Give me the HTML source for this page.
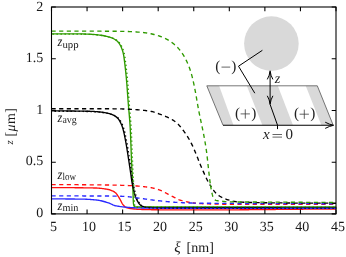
<!DOCTYPE html>
<html><head><meta charset="utf-8"><style>
html,body{margin:0;padding:0;background:#fff;}
svg{display:block;font-family:"Liberation Serif",serif;text-rendering:geometricPrecision;will-change:transform;}
</style></head><body>
<svg width="346" height="257" viewBox="0 0 346 257">
<rect width="346" height="257" fill="#fff"/>
<!-- inset -->
<g>
<path d="M206.8,85.8 L317.3,85.8 L333.2,125.2 L223,125.2 Z" fill="#fff"/>
<path d="M206.8,85.8 L219.1,85.8 L233.5,125.2 L223,125.2 Z" fill="#d9d9d9"/>
<path d="M246.8,85.8 L277.8,85.8 L293,125.2 L262.4,125.2 Z" fill="#d9d9d9"/>
<path d="M305.7,85.8 L317.3,85.8 L333.2,125.2 L321.4,125.2 Z" fill="#d9d9d9"/>
<path d="M206.8,85.8 L317.3,85.8 L333.2,125.2 M206.8,85.8 L223,125.2" fill="none" stroke="#555" stroke-width="0.8"/>
<circle cx="271.4" cy="43.6" r="27.3" fill="#d9d9d9"/>
<g fill="none" stroke="#000" stroke-width="1">
<path d="M223,125.3 H332.5" stroke-width="1.1"/>
<path d="M325.2,122.2 Q329.5,124.5 333.6,125.3 Q329.5,126.1 325.2,128.4"/>
<path d="M262.4,50.3 L238.5,66.2 L254.8,93.2"/>
<path d="M270.1,72 V103.5"/>
<path d="M267.3,79.4 Q269.6,75.5 270.1,70.8 Q270.6,75.5 272.9,79.4"/>
<path d="M267.3,95.8 Q269.6,99.7 270.1,104.4 Q270.6,99.7 272.9,95.8"/>
<path d="M270.1,104.4 L277.5,125.2 V129.1"/>
</g>
<g fill="none" stroke="#333" stroke-width="0.75">
<path d="M221.5,67.1 H230.2"/>
<path d="M240.6,113.9 H249.9 M245.3,109.3 V118.6"/>
<path d="M299.6,114.2 H308.9 M304.3,109.6 V118.9"/>
<path d="M272.5,134.5 H282 M272.5,137.1 H282"/>
</g>
<g font-size="15.3px" fill="#222">
<text x="215.2" y="70.5">(</text><text x="231.3" y="70.5">)</text>
<text x="234.9" y="117.5">(</text><text x="251.2" y="117.5">)</text>
<text x="293.9" y="117.8">(</text><text x="310.2" y="117.8">)</text>
</g>
<g font-size="15px" fill="#222">
<text x="274.7" y="82.9" font-size="14.2px" font-style="italic">z</text>
<text x="262.9" y="139.4" font-style="italic">x</text>
<text x="285.4" y="139.4">0</text>
</g>
</g>
<!-- curves -->
<g stroke-linejoin="round">
<path d="M51.50,33.80 L52.96,33.80 L54.42,33.80 L55.88,33.80 L57.34,33.80 L58.80,33.81 L60.26,33.81 L61.72,33.81 L63.17,33.82 L64.63,33.82 L66.09,33.83 L67.55,33.83 L69.01,33.84 L70.47,33.84 L71.93,33.85 L73.39,33.86 L74.85,33.87 L76.30,33.88 L77.76,33.88 L79.22,33.89 L80.68,33.91 L82.14,33.93 L83.60,33.96 L85.06,34.00 L86.52,34.06 L87.97,34.11 L89.43,34.17 L90.89,34.24 L92.35,34.33 L93.80,34.44 L95.26,34.57 L96.72,34.71 L98.17,34.87 L99.61,35.05 L101.05,35.25 L102.50,35.48 L103.95,35.75 L105.40,36.06 L106.84,36.40 L108.26,36.78 L109.66,37.20 L111.02,37.65 L112.35,38.14 L113.69,38.75 L115.00,39.49 L116.24,40.33 L117.34,41.24 L118.29,42.26 L119.17,43.43 L119.97,44.71 L120.68,46.02 L121.28,47.33 L121.84,48.67 L122.34,50.06 L122.79,51.46 L123.16,52.88 L123.46,54.29 L123.72,55.72 L123.95,57.16 L124.15,58.61 L124.34,60.07 L124.52,61.52 L124.70,62.97 L124.88,64.42 L125.05,65.87 L125.22,67.32 L125.38,68.77 L125.54,70.22 L125.70,71.67 L125.85,73.12 L125.99,74.57 L126.13,76.02 L126.27,77.48 L126.40,78.93 L126.53,80.38 L126.66,81.84 L126.78,83.29 L126.89,84.74 L127.00,86.20 L127.11,87.65 L127.22,89.11 L127.32,90.56 L127.42,92.02 L127.52,93.48 L127.63,94.93 L127.73,96.39 L127.84,97.84 L127.95,99.30 L128.06,100.75 L128.17,102.21 L128.29,103.66 L128.41,105.11 L128.54,106.57 L128.66,108.02 L128.79,109.48 L128.92,110.93 L129.04,112.39 L129.17,113.84 L129.29,115.29 L129.41,116.75 L129.53,118.20 L129.64,119.66 L129.75,121.11 L129.86,122.57 L129.96,124.02 L130.05,125.48 L130.14,126.93 L130.22,128.39 L130.30,129.84 L130.37,131.30 L130.44,132.76 L130.50,134.22 L130.57,135.67 L130.63,137.13 L130.69,138.59 L130.74,140.05 L130.80,141.50 L130.85,142.96 L130.91,144.42 L130.96,145.88 L131.01,147.34 L131.07,148.80 L131.12,150.25 L131.17,151.71 L131.23,153.17 L131.28,154.63 L131.34,156.09 L131.40,157.55 L131.46,159.00 L131.52,160.46 L131.58,161.92 L131.65,163.38 L131.72,164.83 L131.78,166.29 L131.85,167.75 L131.92,169.21 L131.99,170.66 L132.06,172.12 L132.13,173.58 L132.20,175.04 L132.27,176.49 L132.34,177.95 L132.41,179.41 L132.48,180.86 L132.55,182.32 L132.62,183.78 L132.69,185.24 L132.76,186.69 L132.83,188.15 L132.89,189.61 L132.96,191.07 L133.02,192.52 L133.07,193.99 L133.12,195.46 L133.15,196.93 L133.20,198.40 L133.25,199.86 L133.31,201.31 L133.40,202.76 L133.52,204.19 L133.87,205.85 L134.53,206.69 L136.02,206.95 L137.57,207.00 L139.02,207.00 L140.47,206.99 L141.93,206.99 L143.39,206.98 L144.84,206.98 L146.30,206.97 L147.77,206.96 L149.23,206.95 L150.69,206.94 L152.15,206.93 L153.61,206.92 L155.08,206.92 L156.54,206.91 L158.00,206.90 L159.46,206.90 L160.92,206.90 L162.38,206.90 L163.84,206.90 L165.29,206.89 L166.75,206.89 L168.21,206.89 L169.67,206.89 L171.13,206.89 L172.59,206.88 L174.05,206.88 L175.51,206.88 L176.97,206.88 L178.43,206.88 L179.88,206.88 L181.34,206.88 L182.80,206.87 L184.26,206.87 L185.72,206.87 L187.18,206.87 L188.64,206.87 L190.10,206.87 L191.56,206.86 L193.02,206.86 L194.47,206.86 L195.93,206.86 L197.39,206.86 L198.85,206.86 L200.31,206.86 L201.77,206.86 L203.23,206.85 L204.69,206.85 L206.15,206.85 L207.61,206.85 L209.06,206.85 L210.52,206.85 L211.98,206.85 L213.44,206.85 L214.90,206.84 L216.36,206.84 L217.82,206.84 L219.28,206.84 L220.74,206.84 L222.20,206.84 L223.65,206.84 L225.11,206.84 L226.57,206.84 L228.03,206.83 L229.49,206.83 L230.95,206.83 L232.41,206.83 L233.87,206.83 L235.33,206.83 L236.79,206.83 L238.25,206.83 L239.70,206.83 L241.16,206.83 L242.62,206.83 L244.08,206.82 L245.54,206.82 L247.00,206.82 L248.46,206.82 L249.92,206.82 L251.38,206.82 L252.84,206.82 L254.29,206.82 L255.75,206.82 L257.21,206.82 L258.67,206.82 L260.13,206.82 L261.59,206.82 L263.05,206.82 L264.51,206.81 L265.97,206.81 L267.43,206.81 L268.88,206.81 L270.34,206.81 L271.80,206.81 L273.26,206.81 L274.72,206.81 L276.18,206.81 L277.64,206.81 L279.10,206.81 L280.56,206.81 L282.02,206.81 L283.47,206.81 L284.93,206.81 L286.39,206.81 L287.85,206.81 L289.31,206.81 L290.77,206.81 L292.23,206.81 L293.69,206.80 L295.15,206.80 L296.61,206.80 L298.07,206.80 L299.52,206.80 L300.98,206.80 L302.44,206.80 L303.90,206.80 L305.36,206.80 L306.82,206.80 L308.28,206.80 L309.74,206.80 L311.20,206.80 L312.66,206.80 L314.11,206.80 L315.57,206.80 L317.03,206.80 L318.49,206.80 L319.95,206.80 L321.41,206.80 L322.87,206.80 L324.33,206.80 L325.79,206.80 L327.25,206.80 L328.70,206.80 L330.16,206.80 L331.62,206.80 L333.08,206.80 L334.54,206.80 L336.00,206.80" fill="none" stroke="#2f9a00" stroke-width="1.35"/>
<path d="M51.50,110.90 L52.69,110.90 L53.87,110.90 L55.06,110.90 L56.25,110.91 L57.44,110.91 L58.62,110.91 L59.81,110.92 L61.00,110.92 L62.18,110.93 L63.37,110.94 L64.55,110.94 L65.74,110.95 L66.93,110.96 L68.11,110.97 L69.30,110.98 L70.48,111.00 L71.67,111.01 L72.85,111.02 L74.04,111.03 L75.22,111.05 L76.41,111.07 L77.59,111.08 L78.78,111.10 L79.96,111.12 L81.15,111.14 L82.33,111.15 L83.51,111.17 L84.70,111.20 L85.88,111.22 L87.07,111.24 L88.25,111.26 L89.43,111.29 L90.62,111.32 L91.80,111.36 L92.99,111.42 L94.17,111.49 L95.36,111.58 L96.54,111.68 L97.72,111.78 L98.90,111.89 L100.08,112.01 L101.26,112.14 L102.44,112.29 L103.62,112.46 L104.79,112.65 L105.96,112.87 L107.12,113.10 L108.26,113.36 L109.41,113.67 L110.55,114.04 L111.68,114.45 L112.78,114.91 L113.83,115.42 L114.86,115.98 L115.87,116.64 L116.83,117.38 L117.70,118.18 L118.45,119.04 L119.13,120.01 L119.75,121.06 L120.31,122.12 L120.83,123.18 L121.32,124.26 L121.78,125.36 L122.20,126.48 L122.58,127.60 L122.91,128.73 L123.23,129.86 L123.52,131.01 L123.80,132.16 L124.06,133.32 L124.31,134.48 L124.55,135.65 L124.78,136.81 L125.01,137.98 L125.24,139.15 L125.46,140.31 L125.68,141.48 L125.89,142.64 L126.10,143.81 L126.31,144.97 L126.51,146.14 L126.70,147.31 L126.90,148.48 L127.08,149.65 L127.27,150.82 L127.46,151.99 L127.64,153.17 L127.82,154.34 L128.00,155.51 L128.18,156.68 L128.37,157.85 L128.55,159.03 L128.73,160.20 L128.91,161.37 L129.09,162.54 L129.27,163.71 L129.44,164.89 L129.62,166.06 L129.79,167.23 L129.97,168.40 L130.14,169.58 L130.31,170.75 L130.49,171.92 L130.66,173.09 L130.83,174.27 L130.99,175.44 L131.16,176.62 L131.32,177.79 L131.49,178.97 L131.66,180.14 L131.84,181.31 L132.03,182.48 L132.24,183.65 L132.46,184.81 L132.70,185.97 L132.96,187.13 L133.24,188.28 L133.52,189.43 L133.80,190.59 L134.08,191.74 L134.35,192.90 L134.63,194.05 L134.94,195.19 L135.31,196.31 L135.74,197.42 L136.22,198.51 L136.74,199.58 L137.27,200.63 L137.83,201.70 L138.43,202.74 L139.11,203.69 L139.90,204.56 L140.81,205.39 L141.80,206.05 L142.84,206.51 L143.98,206.91 L145.16,207.20 L146.32,207.32 L147.49,207.39 L148.66,207.45 L149.84,207.50 L151.03,207.54 L152.21,207.58 L153.40,207.62 L154.60,207.64 L155.79,207.66 L156.99,207.68 L158.18,207.69 L159.37,207.70 L160.55,207.70 L161.74,207.70 L162.92,207.70 L164.11,207.71 L165.29,207.71 L166.48,207.71 L167.66,207.71 L168.85,207.71 L170.03,207.71 L171.22,207.72 L172.40,207.72 L173.59,207.72 L174.77,207.72 L175.96,207.72 L177.14,207.72 L178.33,207.73 L179.51,207.73 L180.70,207.73 L181.88,207.73 L183.07,207.73 L184.26,207.73 L185.44,207.73 L186.63,207.74 L187.81,207.74 L189.00,207.74 L190.18,207.74 L191.37,207.74 L192.55,207.74 L193.74,207.74 L194.92,207.74 L196.11,207.75 L197.29,207.75 L198.48,207.75 L199.66,207.75 L200.85,207.75 L202.03,207.75 L203.22,207.75 L204.40,207.75 L205.59,207.76 L206.77,207.76 L207.96,207.76 L209.15,207.76 L210.33,207.76 L211.52,207.76 L212.70,207.76 L213.89,207.76 L215.07,207.76 L216.26,207.76 L217.44,207.76 L218.63,207.77 L219.81,207.77 L221.00,207.77 L222.18,207.77 L223.37,207.77 L224.55,207.77 L225.74,207.77 L226.92,207.77 L228.11,207.77 L229.30,207.77 L230.48,207.77 L231.67,207.77 L232.85,207.78 L234.04,207.78 L235.22,207.78 L236.41,207.78 L237.59,207.78 L238.78,207.78 L239.96,207.78 L241.15,207.78 L242.33,207.78 L243.52,207.78 L244.71,207.78 L245.89,207.78 L247.08,207.78 L248.26,207.78 L249.45,207.78 L250.63,207.78 L251.82,207.79 L253.00,207.79 L254.19,207.79 L255.37,207.79 L256.56,207.79 L257.75,207.79 L258.93,207.79 L260.12,207.79 L261.30,207.79 L262.49,207.79 L263.67,207.79 L264.86,207.79 L266.04,207.79 L267.23,207.79 L268.41,207.79 L269.60,207.79 L270.79,207.79 L271.97,207.79 L273.16,207.79 L274.34,207.79 L275.53,207.79 L276.71,207.79 L277.90,207.79 L279.08,207.79 L280.27,207.79 L281.46,207.80 L282.64,207.80 L283.83,207.80 L285.01,207.80 L286.20,207.80 L287.38,207.80 L288.57,207.80 L289.76,207.80 L290.94,207.80 L292.13,207.80 L293.31,207.80 L294.50,207.80 L295.68,207.80 L296.87,207.80 L298.05,207.80 L299.24,207.80 L300.43,207.80 L301.61,207.80 L302.80,207.80 L303.98,207.80 L305.17,207.80 L306.35,207.80 L307.54,207.80 L308.73,207.80 L309.91,207.80 L311.10,207.80 L312.28,207.80 L313.47,207.80 L314.65,207.80 L315.84,207.80 L317.03,207.80 L318.21,207.80 L319.40,207.80 L320.58,207.80 L321.77,207.80 L322.96,207.80 L324.14,207.80 L325.33,207.80 L326.51,207.80 L327.70,207.80 L328.88,207.80 L330.07,207.80 L331.26,207.80 L332.44,207.80 L333.63,207.80 L334.81,207.80 L336.00,207.80" fill="none" stroke="#000" stroke-width="1.35"/>
<path d="M51.50,187.60 L52.48,187.60 L53.47,187.60 L54.45,187.60 L55.44,187.60 L56.42,187.60 L57.41,187.61 L58.39,187.61 L59.37,187.61 L60.36,187.61 L61.34,187.62 L62.32,187.62 L63.30,187.62 L64.29,187.63 L65.27,187.63 L66.25,187.64 L67.23,187.65 L68.21,187.65 L69.19,187.66 L70.17,187.66 L71.15,187.67 L72.13,187.68 L73.11,187.69 L74.09,187.70 L75.07,187.71 L76.05,187.71 L77.03,187.72 L78.01,187.74 L78.99,187.75 L79.97,187.76 L80.95,187.77 L81.93,187.78 L82.91,187.79 L83.89,187.81 L84.87,187.82 L85.84,187.84 L86.82,187.85 L87.80,187.87 L88.78,187.88 L89.75,187.90 L90.73,187.91 L91.71,187.93 L92.69,187.95 L93.66,187.97 L94.64,187.99 L95.62,188.01 L96.60,188.04 L97.58,188.09 L98.57,188.15 L99.56,188.23 L100.55,188.32 L101.54,188.43 L102.52,188.55 L103.50,188.68 L104.47,188.82 L105.43,188.97 L106.39,189.13 L107.33,189.29 L108.27,189.48 L109.22,189.71 L110.18,190.01 L111.14,190.36 L112.08,190.76 L113.00,191.20 L113.87,191.68 L114.68,192.19 L115.43,192.72 L116.10,193.36 L116.72,194.12 L117.31,194.96 L117.86,195.80 L118.41,196.61 L118.92,197.44 L119.42,198.29 L119.91,199.14 L120.39,200.00 L120.85,200.87 L121.29,201.76 L121.72,202.64 L122.19,203.50 L122.72,204.31 L123.33,205.08 L124.00,205.80 L124.71,206.48 L125.49,207.11 L126.33,207.54 L127.24,207.87 L128.20,208.14 L129.18,208.36 L130.15,208.52 L131.11,208.66 L132.08,208.78 L133.05,208.89 L134.03,209.00 L135.01,209.09 L135.99,209.17 L136.97,209.24 L137.95,209.31 L138.94,209.36 L139.92,209.40 L140.89,209.43 L141.87,209.46 L142.85,209.49 L143.83,209.52 L144.81,209.55 L145.79,209.58 L146.77,209.61 L147.75,209.63 L148.73,209.65 L149.71,209.67 L150.69,209.69 L151.67,209.71 L152.65,209.73 L153.64,209.74 L154.62,209.76 L155.60,209.77 L156.58,209.78 L157.56,209.79 L158.54,209.79 L159.52,209.80 L160.50,209.80 L161.48,209.81 L162.46,209.81 L163.44,209.81 L164.42,209.82 L165.40,209.82 L166.38,209.82 L167.36,209.82 L168.34,209.83 L169.32,209.83 L170.30,209.83 L171.29,209.84 L172.27,209.84 L173.25,209.84 L174.23,209.84 L175.21,209.85 L176.19,209.85 L177.17,209.85 L178.15,209.85 L179.13,209.86 L180.11,209.86 L181.09,209.86 L182.07,209.86 L183.05,209.86 L184.03,209.87 L185.01,209.87 L185.99,209.87 L186.97,209.87 L187.95,209.87 L188.93,209.88 L189.91,209.88 L190.89,209.88 L191.87,209.88 L192.86,209.88 L193.84,209.88 L194.82,209.88 L195.80,209.89 L196.78,209.89 L197.76,209.89 L198.74,209.89 L199.72,209.89 L200.70,209.89 L201.68,209.89 L202.66,209.89 L203.64,209.89 L204.62,209.89 L205.60,209.89 L206.58,209.90 L207.56,209.90 L208.54,209.90 L209.52,209.90 L210.50,209.90 L211.48,209.90 L212.47,209.90 L213.45,209.90 L214.43,209.90 L215.41,209.90 L216.39,209.90 L217.37,209.90 L218.35,209.90 L219.33,209.90 L220.31,209.90 L221.29,209.90 L222.27,209.90 L223.25,209.90 L224.23,209.89 L225.21,209.89 L226.19,209.89 L227.17,209.88 L228.15,209.88 L229.13,209.87 L230.11,209.87 L231.09,209.86 L232.07,209.86 L233.05,209.85 L234.04,209.84 L235.02,209.83 L236.00,209.83 L236.98,209.82 L237.96,209.81 L238.94,209.80 L239.92,209.79 L240.90,209.78 L241.88,209.77 L242.86,209.76 L243.84,209.75 L244.82,209.74 L245.80,209.73 L246.78,209.72 L247.76,209.72 L248.74,209.71 L249.72,209.70 L250.70,209.69 L251.68,209.68 L252.66,209.67 L253.64,209.66 L254.62,209.65 L255.60,209.64 L256.59,209.63 L257.57,209.62 L258.55,209.61 L259.53,209.60 L260.51,209.60 L261.49,209.59 L262.47,209.58 L263.45,209.57 L264.43,209.56 L265.41,209.55 L266.39,209.55 L267.37,209.54 L268.35,209.53 L269.33,209.52 L270.31,209.51 L271.29,209.50 L272.27,209.49 L273.25,209.48 L274.23,209.47 L275.21,209.46 L276.19,209.45 L277.17,209.44 L278.15,209.43 L279.13,209.42 L280.12,209.41 L281.10,209.41 L282.08,209.40 L283.06,209.39 L284.04,209.38 L285.02,209.37 L286.00,209.36 L286.98,209.35 L287.96,209.34 L288.94,209.33 L289.92,209.32 L290.90,209.31 L291.88,209.30 L292.86,209.29 L293.84,209.28 L294.82,209.27 L295.80,209.26 L296.78,209.26 L297.76,209.25 L298.74,209.24 L299.72,209.23 L300.70,209.22 L301.68,209.21 L302.66,209.21 L303.65,209.20 L304.63,209.19 L305.61,209.18 L306.59,209.17 L307.57,209.17 L308.55,209.16 L309.53,209.15 L310.51,209.15 L311.49,209.14 L312.47,209.13 L313.45,209.13 L314.43,209.12 L315.41,209.11 L316.39,209.11 L317.37,209.10 L318.35,209.10 L319.33,209.09 L320.31,209.08 L321.29,209.08 L322.27,209.07 L323.25,209.07 L324.23,209.06 L325.22,209.06 L326.20,209.05 L327.18,209.04 L328.16,209.04 L329.14,209.03 L330.12,209.03 L331.10,209.02 L332.08,209.02 L333.06,209.01 L334.04,209.01 L335.02,209.00 L336.00,209.00" fill="none" stroke="#ff1010" stroke-width="1.35"/>
<path d="M51.50,198.90 L52.46,198.90 L53.41,198.90 L54.37,198.90 L55.33,198.90 L56.28,198.91 L57.24,198.91 L58.20,198.91 L59.15,198.92 L60.11,198.92 L61.06,198.92 L62.02,198.93 L62.98,198.93 L63.93,198.94 L64.89,198.95 L65.84,198.95 L66.80,198.96 L67.75,198.97 L68.71,198.98 L69.66,198.99 L70.62,199.00 L71.57,199.01 L72.52,199.02 L73.48,199.03 L74.43,199.04 L75.39,199.05 L76.34,199.06 L77.30,199.08 L78.25,199.09 L79.20,199.10 L80.16,199.12 L81.11,199.13 L82.06,199.15 L83.02,199.16 L83.97,199.18 L84.92,199.20 L85.88,199.22 L86.83,199.25 L87.79,199.30 L88.75,199.35 L89.70,199.41 L90.66,199.48 L91.61,199.55 L92.57,199.64 L93.52,199.73 L94.47,199.82 L95.42,199.92 L96.37,200.03 L97.31,200.14 L98.25,200.26 L99.19,200.40 L100.12,200.58 L101.06,200.77 L101.99,200.99 L102.92,201.23 L103.85,201.48 L104.78,201.75 L105.70,202.02 L106.61,202.30 L107.52,202.58 L108.43,202.88 L109.32,203.22 L110.20,203.60 L111.08,204.01 L111.95,204.42 L112.83,204.82 L113.71,205.18 L114.61,205.49 L115.51,205.73 L116.44,205.92 L117.37,206.11 L118.31,206.27 L119.26,206.42 L120.21,206.56 L121.16,206.69 L122.12,206.80 L123.06,206.91 L124.01,207.00 L124.96,207.10 L125.91,207.19 L126.86,207.28 L127.82,207.37 L128.77,207.45 L129.72,207.52 L130.68,207.59 L131.63,207.65 L132.58,207.70 L133.54,207.75 L134.49,207.78 L135.45,207.81 L136.40,207.84 L137.35,207.86 L138.31,207.89 L139.26,207.91 L140.22,207.94 L141.17,207.96 L142.13,207.98 L143.08,208.00 L144.04,208.02 L144.99,208.04 L145.95,208.05 L146.90,208.07 L147.86,208.09 L148.81,208.10 L149.77,208.11 L150.72,208.13 L151.68,208.14 L152.63,208.15 L153.59,208.16 L154.54,208.17 L155.50,208.18 L156.45,208.18 L157.41,208.19 L158.36,208.19 L159.32,208.20 L160.27,208.20 L161.23,208.20 L162.18,208.21 L163.14,208.21 L164.09,208.21 L165.05,208.21 L166.00,208.22 L166.96,208.22 L167.91,208.22 L168.87,208.22 L169.82,208.23 L170.78,208.23 L171.73,208.23 L172.69,208.23 L173.64,208.23 L174.60,208.24 L175.55,208.24 L176.51,208.24 L177.46,208.24 L178.42,208.25 L179.37,208.25 L180.33,208.25 L181.28,208.25 L182.24,208.25 L183.19,208.26 L184.15,208.26 L185.10,208.26 L186.06,208.26 L187.01,208.27 L187.97,208.27 L188.92,208.27 L189.88,208.27 L190.83,208.27 L191.79,208.28 L192.74,208.28 L193.70,208.28 L194.65,208.28 L195.61,208.28 L196.56,208.28 L197.52,208.29 L198.47,208.29 L199.43,208.29 L200.38,208.29 L201.34,208.29 L202.29,208.30 L203.25,208.30 L204.20,208.30 L205.16,208.30 L206.11,208.30 L207.07,208.30 L208.02,208.31 L208.98,208.31 L209.93,208.31 L210.89,208.31 L211.84,208.31 L212.80,208.31 L213.75,208.31 L214.71,208.32 L215.66,208.32 L216.62,208.32 L217.57,208.32 L218.53,208.32 L219.48,208.32 L220.44,208.33 L221.39,208.33 L222.35,208.33 L223.30,208.33 L224.26,208.33 L225.21,208.33 L226.17,208.33 L227.12,208.33 L228.08,208.34 L229.03,208.34 L229.99,208.34 L230.94,208.34 L231.90,208.34 L232.85,208.34 L233.81,208.34 L234.76,208.34 L235.72,208.35 L236.67,208.35 L237.63,208.35 L238.58,208.35 L239.54,208.35 L240.49,208.35 L241.45,208.35 L242.40,208.35 L243.36,208.35 L244.31,208.36 L245.27,208.36 L246.22,208.36 L247.18,208.36 L248.13,208.36 L249.09,208.36 L250.04,208.36 L251.00,208.36 L251.95,208.36 L252.91,208.36 L253.86,208.37 L254.82,208.37 L255.77,208.37 L256.73,208.37 L257.68,208.37 L258.64,208.37 L259.59,208.37 L260.55,208.37 L261.50,208.37 L262.46,208.37 L263.41,208.37 L264.37,208.37 L265.32,208.38 L266.28,208.38 L267.23,208.38 L268.19,208.38 L269.14,208.38 L270.10,208.38 L271.05,208.38 L272.01,208.38 L272.96,208.38 L273.92,208.38 L274.87,208.38 L275.83,208.38 L276.78,208.38 L277.74,208.38 L278.69,208.38 L279.65,208.38 L280.60,208.39 L281.56,208.39 L282.51,208.39 L283.47,208.39 L284.42,208.39 L285.38,208.39 L286.33,208.39 L287.29,208.39 L288.24,208.39 L289.20,208.39 L290.16,208.39 L291.11,208.39 L292.07,208.39 L293.02,208.39 L293.98,208.39 L294.93,208.39 L295.89,208.39 L296.84,208.39 L297.80,208.39 L298.75,208.39 L299.71,208.39 L300.66,208.39 L301.62,208.39 L302.57,208.40 L303.53,208.40 L304.48,208.40 L305.44,208.40 L306.39,208.40 L307.35,208.40 L308.30,208.40 L309.26,208.40 L310.21,208.40 L311.17,208.40 L312.12,208.40 L313.08,208.40 L314.03,208.40 L314.99,208.40 L315.94,208.40 L316.90,208.40 L317.85,208.40 L318.81,208.40 L319.76,208.40 L320.72,208.40 L321.67,208.40 L322.63,208.40 L323.58,208.40 L324.54,208.40 L325.49,208.40 L326.45,208.40 L327.40,208.40 L328.36,208.40 L329.31,208.40 L330.27,208.40 L331.22,208.40 L332.18,208.40 L333.13,208.40 L334.09,208.40 L335.04,208.40 L336.00,208.40" fill="none" stroke="#2a2aff" stroke-width="1.35"/>
<path d="M52.50,34.10 L53.96,34.10 L55.42,34.10 L56.88,34.10 L58.34,34.10 L59.80,34.11 L61.26,34.11 L62.72,34.11 L64.17,34.12 L65.63,34.12 L67.09,34.13 L68.55,34.13 L70.01,34.14 L71.47,34.14 L72.93,34.15 L74.39,34.16 L75.85,34.17 L77.30,34.18 L78.76,34.18 L80.22,34.19 L81.68,34.21 L83.14,34.23 L84.60,34.26 L86.06,34.30 L87.52,34.36 L88.97,34.41 L90.43,34.47 L91.89,34.54 L93.35,34.63 L94.80,34.74 L96.26,34.87 L97.72,35.01 L99.17,35.17 L100.61,35.35 L102.05,35.55 L103.50,35.78 L104.95,36.05 L106.40,36.36 L107.84,36.70 L109.26,37.08 L110.66,37.50 L112.02,37.95 L113.35,38.44 L114.69,39.05 L116.00,39.79 L117.24,40.63 L118.34,41.54 L119.29,42.56 L120.17,43.73 L120.97,45.01 L121.68,46.32 L122.28,47.63 L122.84,48.97 L123.34,50.36 L123.79,51.76 L124.16,53.18 L124.46,54.59 L124.72,56.02 L124.95,57.46 L125.15,58.91 L125.34,60.37 L125.52,61.82 L125.70,63.27 L125.88,64.72 L126.05,66.17 L126.22,67.62 L126.38,69.07 L126.54,70.52 L126.70,71.97 L126.85,73.42 L126.99,74.87 L127.13,76.32 L127.27,77.78 L127.40,79.23 L127.53,80.68 L127.66,82.14 L127.78,83.59 L127.89,85.04 L128.00,86.50 L128.11,87.95 L128.22,89.41 L128.32,90.86 L128.42,92.32 L128.52,93.78 L128.63,95.23 L128.73,96.69 L128.84,98.14 L128.95,99.60 L129.06,101.05 L129.17,102.51 L129.29,103.96 L129.41,105.41 L129.54,106.87 L129.66,108.32 L129.79,109.78 L129.92,111.23 L130.04,112.69 L130.17,114.14 L130.29,115.59 L130.41,117.05 L130.53,118.50 L130.64,119.96 L130.75,121.41 L130.86,122.87 L130.96,124.32 L131.05,125.78 L131.14,127.23 L131.22,128.69 L131.30,130.14 L131.37,131.60 L131.44,133.06 L131.50,134.52 L131.57,135.97 L131.63,137.43 L131.69,138.89 L131.74,140.35 L131.80,141.80 L131.85,143.26 L131.91,144.72 L131.96,146.18 L132.01,147.64 L132.07,149.10 L132.12,150.55 L132.17,152.01 L132.23,153.47 L132.28,154.93 L132.34,156.39 L132.40,157.85 L132.46,159.30 L132.52,160.76 L132.58,162.22 L132.65,163.68 L132.72,165.13 L132.78,166.59 L132.85,168.05 L132.92,169.51 L132.99,170.96 L133.06,172.42 L133.13,173.88 L133.20,175.34 L133.27,176.79 L133.34,178.25 L133.41,179.71 L133.48,181.16 L133.55,182.62 L133.62,184.08 L133.69,185.54 L133.76,186.99 L133.83,188.45 L133.89,189.91 L133.96,191.37 L134.02,192.82 L134.07,194.29 L134.12,195.76 L134.15,197.23 L134.20,198.70 L134.25,200.16 L134.31,201.61 L134.40,203.06 L134.52,204.49 L134.87,206.15 L135.53,206.99 L137.02,207.25 L138.57,207.30 L140.02,207.30 L141.47,207.29 L142.93,207.29 L144.39,207.28 L145.84,207.28 L147.30,207.27 L148.77,207.26 L150.23,207.25 L151.69,207.24 L153.15,207.23 L154.61,207.22 L156.08,207.22 L157.54,207.21 L159.00,207.20 L160.46,207.20 L161.92,207.20 L163.38,207.20 L164.84,207.20 L166.29,207.19 L167.75,207.19 L169.21,207.19 L170.67,207.19 L172.13,207.19 L173.59,207.18 L175.05,207.18 L176.51,207.18 L177.97,207.18 L179.43,207.18 L180.88,207.18 L182.34,207.18 L183.80,207.17 L185.26,207.17 L186.72,207.17 L188.18,207.17 L189.64,207.17 L191.10,207.17 L192.56,207.16 L194.02,207.16 L195.47,207.16 L196.93,207.16 L198.39,207.16 L199.85,207.16 L201.31,207.16 L202.77,207.16 L204.23,207.15 L205.69,207.15 L207.15,207.15 L208.61,207.15 L210.06,207.15 L211.52,207.15 L212.98,207.15 L214.44,207.15 L215.90,207.14 L217.36,207.14 L218.82,207.14 L220.28,207.14 L221.74,207.14 L223.20,207.14 L224.65,207.14 L226.11,207.14 L227.57,207.14 L229.03,207.13 L230.49,207.13 L231.95,207.13 L233.41,207.13 L234.87,207.13 L236.33,207.13 L237.79,207.13 L239.25,207.13 L240.70,207.13 L242.16,207.13 L243.62,207.13 L245.08,207.12 L246.54,207.12 L248.00,207.12 L249.46,207.12 L250.92,207.12 L252.38,207.12 L253.84,207.12 L255.29,207.12 L256.75,207.12 L258.21,207.12 L259.67,207.12 L261.13,207.12 L262.59,207.12 L264.05,207.12 L265.51,207.11 L266.97,207.11 L268.43,207.11 L269.88,207.11 L271.34,207.11 L272.80,207.11 L274.26,207.11 L275.72,207.11 L277.18,207.11 L278.64,207.11 L280.10,207.11 L281.56,207.11 L283.02,207.11 L284.47,207.11 L285.93,207.11 L287.39,207.11 L288.85,207.11 L290.31,207.11 L291.77,207.11 L293.23,207.11 L294.69,207.10 L296.15,207.10 L297.61,207.10 L299.07,207.10 L300.52,207.10 L301.98,207.10 L303.44,207.10 L304.90,207.10 L306.36,207.10 L307.82,207.10 L309.28,207.10 L310.74,207.10 L312.20,207.10 L313.66,207.10 L315.11,207.10 L316.57,207.10 L318.03,207.10 L319.49,207.10 L320.95,207.10 L322.41,207.10 L323.87,207.10 L325.33,207.10 L326.79,207.10 L328.25,207.10 L329.70,207.10 L331.16,207.10 L332.62,207.10 L334.08,207.10 L335.54,207.10 L337.00,207.10" fill="none" stroke="#2f9a00" stroke-width="1.35" stroke-dasharray="1.4 2.6" stroke-dashoffset="0"/>
<path d="M52.50,111.20 L53.69,111.20 L54.87,111.20 L56.06,111.20 L57.25,111.21 L58.44,111.21 L59.62,111.21 L60.81,111.22 L62.00,111.22 L63.18,111.23 L64.37,111.24 L65.55,111.24 L66.74,111.25 L67.93,111.26 L69.11,111.27 L70.30,111.28 L71.48,111.30 L72.67,111.31 L73.85,111.32 L75.04,111.33 L76.22,111.35 L77.41,111.37 L78.59,111.38 L79.78,111.40 L80.96,111.42 L82.15,111.44 L83.33,111.45 L84.51,111.47 L85.70,111.50 L86.88,111.52 L88.07,111.54 L89.25,111.56 L90.43,111.59 L91.62,111.62 L92.80,111.66 L93.99,111.72 L95.17,111.79 L96.36,111.88 L97.54,111.98 L98.72,112.08 L99.90,112.19 L101.08,112.31 L102.26,112.44 L103.44,112.59 L104.62,112.76 L105.79,112.95 L106.96,113.17 L108.12,113.40 L109.26,113.66 L110.41,113.97 L111.55,114.34 L112.68,114.75 L113.78,115.21 L114.83,115.72 L115.86,116.28 L116.87,116.94 L117.83,117.68 L118.70,118.48 L119.45,119.34 L120.13,120.31 L120.75,121.36 L121.31,122.42 L121.83,123.48 L122.32,124.56 L122.78,125.66 L123.20,126.78 L123.58,127.90 L123.91,129.03 L124.23,130.16 L124.52,131.31 L124.80,132.46 L125.06,133.62 L125.31,134.78 L125.55,135.95 L125.78,137.11 L126.01,138.28 L126.24,139.45 L126.46,140.61 L126.68,141.78 L126.89,142.94 L127.10,144.11 L127.31,145.27 L127.51,146.44 L127.70,147.61 L127.90,148.78 L128.08,149.95 L128.27,151.12 L128.46,152.29 L128.64,153.47 L128.82,154.64 L129.00,155.81 L129.18,156.98 L129.37,158.15 L129.55,159.33 L129.73,160.50 L129.91,161.67 L130.09,162.84 L130.27,164.01 L130.44,165.19 L130.62,166.36 L130.79,167.53 L130.97,168.70 L131.14,169.88 L131.31,171.05 L131.49,172.22 L131.66,173.39 L131.83,174.57 L131.99,175.74 L132.16,176.92 L132.32,178.09 L132.49,179.27 L132.66,180.44 L132.84,181.61 L133.03,182.78 L133.24,183.95 L133.46,185.11 L133.70,186.27 L133.96,187.43 L134.24,188.58 L134.52,189.73 L134.80,190.89 L135.08,192.04 L135.35,193.20 L135.63,194.35 L135.94,195.49 L136.31,196.61 L136.74,197.72 L137.22,198.81 L137.74,199.88 L138.27,200.93 L138.83,202.00 L139.43,203.04 L140.11,203.99 L140.90,204.86 L141.81,205.69 L142.80,206.35 L143.84,206.81 L144.98,207.21 L146.16,207.50 L147.32,207.62 L148.49,207.69 L149.66,207.75 L150.84,207.80 L152.03,207.84 L153.21,207.88 L154.40,207.92 L155.60,207.94 L156.79,207.96 L157.99,207.98 L159.18,207.99 L160.37,208.00 L161.55,208.00 L162.74,208.00 L163.92,208.00 L165.11,208.01 L166.29,208.01 L167.48,208.01 L168.66,208.01 L169.85,208.01 L171.03,208.01 L172.22,208.02 L173.40,208.02 L174.59,208.02 L175.77,208.02 L176.96,208.02 L178.14,208.02 L179.33,208.03 L180.51,208.03 L181.70,208.03 L182.88,208.03 L184.07,208.03 L185.26,208.03 L186.44,208.03 L187.63,208.04 L188.81,208.04 L190.00,208.04 L191.18,208.04 L192.37,208.04 L193.55,208.04 L194.74,208.04 L195.92,208.04 L197.11,208.05 L198.29,208.05 L199.48,208.05 L200.66,208.05 L201.85,208.05 L203.03,208.05 L204.22,208.05 L205.40,208.05 L206.59,208.06 L207.77,208.06 L208.96,208.06 L210.15,208.06 L211.33,208.06 L212.52,208.06 L213.70,208.06 L214.89,208.06 L216.07,208.06 L217.26,208.06 L218.44,208.06 L219.63,208.07 L220.81,208.07 L222.00,208.07 L223.18,208.07 L224.37,208.07 L225.55,208.07 L226.74,208.07 L227.92,208.07 L229.11,208.07 L230.30,208.07 L231.48,208.07 L232.67,208.07 L233.85,208.08 L235.04,208.08 L236.22,208.08 L237.41,208.08 L238.59,208.08 L239.78,208.08 L240.96,208.08 L242.15,208.08 L243.33,208.08 L244.52,208.08 L245.71,208.08 L246.89,208.08 L248.08,208.08 L249.26,208.08 L250.45,208.08 L251.63,208.08 L252.82,208.09 L254.00,208.09 L255.19,208.09 L256.37,208.09 L257.56,208.09 L258.75,208.09 L259.93,208.09 L261.12,208.09 L262.30,208.09 L263.49,208.09 L264.67,208.09 L265.86,208.09 L267.04,208.09 L268.23,208.09 L269.41,208.09 L270.60,208.09 L271.79,208.09 L272.97,208.09 L274.16,208.09 L275.34,208.09 L276.53,208.09 L277.71,208.09 L278.90,208.09 L280.08,208.09 L281.27,208.09 L282.46,208.10 L283.64,208.10 L284.83,208.10 L286.01,208.10 L287.20,208.10 L288.38,208.10 L289.57,208.10 L290.76,208.10 L291.94,208.10 L293.13,208.10 L294.31,208.10 L295.50,208.10 L296.68,208.10 L297.87,208.10 L299.05,208.10 L300.24,208.10 L301.43,208.10 L302.61,208.10 L303.80,208.10 L304.98,208.10 L306.17,208.10 L307.35,208.10 L308.54,208.10 L309.73,208.10 L310.91,208.10 L312.10,208.10 L313.28,208.10 L314.47,208.10 L315.65,208.10 L316.84,208.10 L318.03,208.10 L319.21,208.10 L320.40,208.10 L321.58,208.10 L322.77,208.10 L323.96,208.10 L325.14,208.10 L326.33,208.10 L327.51,208.10 L328.70,208.10 L329.88,208.10 L331.07,208.10 L332.26,208.10 L333.44,208.10 L334.63,208.10 L335.81,208.10 L337.00,208.10" fill="none" stroke="#000" stroke-width="1.35" stroke-dasharray="1.4 2.6" stroke-dashoffset="2"/>
<path d="M51.50,184.60 L52.22,184.60 L52.94,184.60 L53.66,184.60 L54.38,184.60 L55.10,184.60 L55.83,184.60 L56.55,184.60 L57.27,184.61 L57.99,184.61 L58.71,184.61 L59.43,184.61 L60.15,184.61 L60.87,184.61 L61.59,184.62 L62.31,184.62 L63.03,184.62 L63.75,184.62 L64.48,184.63 L65.20,184.63 L65.92,184.63 L66.64,184.64 L67.36,184.64 L68.08,184.64 L68.80,184.65 L69.52,184.65 L70.24,184.65 L70.96,184.66 L71.68,184.66 L72.40,184.67 L73.13,184.67 L73.85,184.68 L74.57,184.68 L75.29,184.68 L76.01,184.69 L76.73,184.69 L77.45,184.70 L78.17,184.70 L78.89,184.71 L79.61,184.72 L80.33,184.72 L81.05,184.73 L81.77,184.73 L82.50,184.74 L83.22,184.74 L83.94,184.75 L84.66,184.76 L85.38,184.76 L86.10,184.77 L86.82,184.77 L87.54,184.78 L88.26,184.79 L88.98,184.79 L89.70,184.80 L90.42,184.81 L91.14,184.81 L91.86,184.82 L92.59,184.83 L93.31,184.83 L94.03,184.84 L94.75,184.85 L95.47,184.85 L96.19,184.86 L96.91,184.87 L97.63,184.88 L98.35,184.88 L99.07,184.89 L99.79,184.90 L100.51,184.91 L101.23,184.91 L101.95,184.92 L102.68,184.93 L103.40,184.94 L104.12,184.95 L104.84,184.96 L105.56,184.97 L106.28,184.98 L107.00,184.99 L107.72,185.00 L108.44,185.01 L109.16,185.03 L109.89,185.04 L110.61,185.05 L111.33,185.07 L112.05,185.08 L112.77,185.09 L113.49,185.11 L114.21,185.12 L114.93,185.14 L115.65,185.16 L116.38,185.17 L117.10,185.19 L117.82,185.21 L118.54,185.23 L119.26,185.25 L119.98,185.27 L120.70,185.29 L121.42,185.31 L122.14,185.33 L122.86,185.35 L123.58,185.37 L124.30,185.40 L125.02,185.42 L125.74,185.44 L126.46,185.47 L127.18,185.49 L127.90,185.52 L128.62,185.55 L129.34,185.57 L130.06,185.60 L130.78,185.63 L131.50,185.67 L132.22,185.70 L132.94,185.74 L133.66,185.78 L134.38,185.83 L135.10,185.87 L135.82,185.93 L136.55,185.98 L137.27,186.04 L137.99,186.10 L138.71,186.16 L139.43,186.22 L140.15,186.29 L140.87,186.36 L141.59,186.44 L142.31,186.51 L143.03,186.59 L143.74,186.67 L144.46,186.76 L145.17,186.84 L145.89,186.93 L146.60,187.02 L147.31,187.12 L148.02,187.22 L148.73,187.32 L149.44,187.42 L150.15,187.52 L150.85,187.64 L151.56,187.77 L152.26,187.92 L152.97,188.07 L153.68,188.25 L154.38,188.43 L155.08,188.62 L155.78,188.82 L156.47,189.03 L157.17,189.25 L157.85,189.47 L158.54,189.70 L159.22,189.93 L159.89,190.16 L160.56,190.41 L161.22,190.67 L161.88,190.95 L162.53,191.25 L163.17,191.56 L163.82,191.89 L164.46,192.22 L165.10,192.56 L165.73,192.91 L166.37,193.26 L167.01,193.61 L167.64,193.96 L168.28,194.31 L168.92,194.65 L169.56,194.98 L170.21,195.31 L170.86,195.62 L171.50,195.95 L172.15,196.28 L172.79,196.62 L173.43,196.96 L174.08,197.30 L174.72,197.64 L175.37,197.97 L176.02,198.30 L176.66,198.62 L177.32,198.93 L177.97,199.23 L178.63,199.51 L179.29,199.78 L179.96,200.02 L180.63,200.25 L181.31,200.46 L182.00,200.65 L182.69,200.85 L183.39,201.03 L184.09,201.21 L184.79,201.37 L185.50,201.53 L186.21,201.69 L186.92,201.83 L187.63,201.97 L188.34,202.10 L189.05,202.23 L189.76,202.34 L190.47,202.46 L191.18,202.57 L191.90,202.69 L192.61,202.80" fill="none" stroke="#ff1010" stroke-width="1.35" stroke-dasharray="4.2 3.43"/>
<path d="M336.00,204.40 L335.28,204.40 L334.56,204.40 L333.84,204.40 L333.12,204.40 L332.40,204.40 L331.67,204.40 L330.95,204.40 L330.23,204.40 L329.51,204.40 L328.79,204.40 L328.07,204.40 L327.35,204.40 L326.63,204.40 L325.91,204.40 L325.19,204.40 L324.47,204.40 L323.74,204.40 L323.02,204.40 L322.30,204.40 L321.58,204.40 L320.86,204.40 L320.14,204.40 L319.42,204.40 L318.70,204.40 L317.98,204.40 L317.26,204.40 L316.54,204.40 L315.81,204.40 L315.09,204.40 L314.37,204.40 L313.65,204.40 L312.93,204.40 L312.21,204.40 L311.49,204.40 L310.77,204.40 L310.05,204.40 L309.33,204.40 L308.61,204.39 L307.88,204.39 L307.16,204.39 L306.44,204.39 L305.72,204.39 L305.00,204.39 L304.28,204.39 L303.56,204.39 L302.84,204.39 L302.12,204.39 L301.40,204.39 L300.68,204.39 L299.96,204.39 L299.23,204.39 L298.51,204.39 L297.79,204.39 L297.07,204.39 L296.35,204.39 L295.63,204.39 L294.91,204.39 L294.19,204.39 L293.47,204.39 L292.75,204.39 L292.03,204.39 L291.31,204.39 L290.59,204.39 L289.86,204.38 L289.14,204.38 L288.42,204.38 L287.70,204.38 L286.98,204.38 L286.26,204.38 L285.54,204.38 L284.82,204.38 L284.10,204.38 L283.38,204.38 L282.66,204.38 L281.94,204.38 L281.21,204.38 L280.49,204.38 L279.77,204.38 L279.05,204.38 L278.33,204.37 L277.61,204.37 L276.89,204.37 L276.17,204.37 L275.45,204.37 L274.73,204.37 L274.01,204.37 L273.29,204.37 L272.57,204.37 L271.84,204.37 L271.12,204.37 L270.40,204.37 L269.68,204.37 L268.96,204.36 L268.24,204.36 L267.52,204.36 L266.80,204.36 L266.08,204.36 L265.36,204.36 L264.64,204.36 L263.92,204.36 L263.20,204.36 L262.48,204.36 L261.75,204.36 L261.03,204.35 L260.31,204.35 L259.59,204.35 L258.87,204.35 L258.15,204.35 L257.43,204.35 L256.71,204.35 L255.99,204.35 L255.27,204.35 L254.55,204.35 L253.83,204.34 L253.11,204.34 L252.38,204.34 L251.66,204.34 L250.94,204.34 L250.22,204.34 L249.50,204.34 L248.78,204.34 L248.06,204.33 L247.34,204.33 L246.62,204.33 L245.90,204.33 L245.18,204.33 L244.46,204.33 L243.74,204.33 L243.02,204.33 L242.30,204.32 L241.57,204.32 L240.85,204.32 L240.13,204.32 L239.41,204.32 L238.69,204.32 L237.97,204.32 L237.25,204.32 L236.53,204.31 L235.81,204.31 L235.09,204.31 L234.37,204.31 L233.65,204.31 L232.93,204.31 L232.21,204.30 L231.48,204.30 L230.76,204.30 L230.04,204.30 L229.32,204.30 L228.60,204.30 L227.88,204.29 L227.16,204.29 L226.44,204.28 L225.72,204.28 L225.00,204.27 L224.27,204.26 L223.55,204.26 L222.83,204.25 L222.11,204.24 L221.39,204.23 L220.67,204.22 L219.95,204.21 L219.22,204.19 L218.50,204.18 L217.78,204.17 L217.06,204.15 L216.34,204.14 L215.62,204.12 L214.89,204.10 L214.17,204.09 L213.45,204.07 L212.73,204.05 L212.01,204.03 L211.29,204.01 L210.57,203.99 L209.85,203.97 L209.13,203.95 L208.41,203.92 L207.69,203.90 L206.97,203.87 L206.25,203.85 L205.53,203.82 L204.81,203.80 L204.09,203.77 L203.37,203.74 L202.65,203.71 L201.93,203.68 L201.21,203.65 L200.50,203.62 L199.78,203.59 L199.06,203.55 L198.34,203.50 L197.63,203.44 L196.91,203.36 L196.19,203.29 L195.47,203.20 L194.76,203.11 L194.04,203.01 L193.32,202.90 L192.61,202.80" fill="none" stroke="#ff1010" stroke-width="1.35" stroke-dasharray="4.2 3.43" stroke-dashoffset="4.83"/>
<path d="M51.50,195.90 L52.21,195.90 L52.93,195.90 L53.64,195.90 L54.36,195.90 L55.07,195.90 L55.78,195.90 L56.50,195.90 L57.21,195.90 L57.93,195.90 L58.64,195.90 L59.35,195.90 L60.07,195.90 L60.78,195.90 L61.50,195.91 L62.21,195.91 L62.92,195.91 L63.64,195.91 L64.35,195.91 L65.07,195.91 L65.78,195.91 L66.49,195.91 L67.21,195.91 L67.92,195.91 L68.64,195.92 L69.35,195.92 L70.06,195.92 L70.78,195.92 L71.49,195.92 L72.20,195.92 L72.92,195.92 L73.63,195.92 L74.35,195.93 L75.06,195.93 L75.77,195.93 L76.49,195.93 L77.20,195.93 L77.92,195.93 L78.63,195.94 L79.34,195.94 L80.06,195.94 L80.77,195.94 L81.49,195.94 L82.20,195.94 L82.91,195.95 L83.63,195.95 L84.34,195.95 L85.06,195.95 L85.77,195.95 L86.48,195.96 L87.20,195.96 L87.91,195.96 L88.63,195.96 L89.34,195.97 L90.05,195.97 L90.77,195.97 L91.48,195.97 L92.20,195.97 L92.91,195.98 L93.62,195.98 L94.34,195.98 L95.05,195.98 L95.77,195.99 L96.48,195.99 L97.19,195.99 L97.91,195.99 L98.62,196.00 L99.34,196.00 L100.05,196.00 L100.76,196.00 L101.48,196.01 L102.19,196.01 L102.90,196.01 L103.62,196.01 L104.33,196.02 L105.05,196.02 L105.76,196.02 L106.48,196.03 L107.19,196.03 L107.90,196.04 L108.62,196.04 L109.33,196.05 L110.04,196.05 L110.76,196.06 L111.47,196.06 L112.19,196.07 L112.90,196.08 L113.61,196.08 L114.33,196.09 L115.04,196.10 L115.76,196.11 L116.47,196.12 L117.18,196.14 L117.90,196.16 L118.61,196.18 L119.33,196.20 L120.04,196.23 L120.75,196.25 L121.47,196.28 L122.18,196.31 L122.89,196.35 L123.61,196.38 L124.32,196.42 L125.03,196.46 L125.74,196.51 L126.45,196.57 L127.16,196.63 L127.87,196.70 L128.58,196.77 L129.29,196.85 L130.00,196.94 L130.71,197.03 L131.42,197.12 L132.12,197.21 L132.83,197.31 L133.54,197.41 L134.25,197.51 L134.96,197.61 L135.67,197.71 L136.37,197.81 L137.08,197.91 L137.79,198.01 L138.50,198.10 L139.21,198.20 L139.91,198.29 L140.62,198.38 L141.33,198.47 L142.04,198.57 L142.74,198.66 L143.45,198.76 L144.16,198.86 L144.87,198.96 L145.57,199.06 L146.28,199.16 L146.99,199.26 L147.69,199.36 L148.40,199.46 L149.11,199.56 L149.82,199.66 L150.52,199.75 L151.23,199.85 L151.94,199.94 L152.65,200.03 L153.35,200.12 L154.06,200.21 L154.77,200.29 L155.48,200.38 L156.19,200.46 L156.90,200.54 L157.61,200.62 L158.32,200.71 L159.03,200.79 L159.74,200.86 L160.45,200.94 L161.16,201.02 L161.87,201.09 L162.58,201.16 L163.29,201.24 L164.00,201.30 L164.71,201.37 L165.42,201.44 L166.13,201.51 L166.84,201.57 L167.55,201.64 L168.26,201.71 L168.97,201.77 L169.69,201.84 L170.40,201.90 L171.11,201.97 L171.82,202.03 L172.53,202.09 L173.24,202.15 L173.96,202.21 L174.67,202.27 L175.38,202.32 L176.09,202.37 L176.80,202.42 L177.52,202.47 L178.23,202.51 L178.94,202.55 L179.65,202.58 L180.37,202.62 L181.08,202.65 L181.79,202.68 L182.50,202.71 L183.22,202.74 L183.93,202.77 L184.64,202.80 L185.36,202.83 L186.07,202.85 L186.79,202.88 L187.50,202.91 L188.21,202.93 L188.93,202.96 L189.64,202.98 L190.35,203.00 L191.07,203.02 L191.78,203.04 L192.50,203.06" fill="none" stroke="#2a2aff" stroke-width="1.35" stroke-dasharray="4.2 3.43"/>
<path d="M336.00,203.70 L335.29,203.70 L334.57,203.70 L333.86,203.70 L333.14,203.70 L332.43,203.70 L331.71,203.70 L331.00,203.70 L330.29,203.70 L329.57,203.70 L328.86,203.70 L328.14,203.70 L327.43,203.70 L326.72,203.70 L326.00,203.70 L325.29,203.70 L324.57,203.70 L323.86,203.70 L323.14,203.70 L322.43,203.70 L321.72,203.70 L321.00,203.70 L320.29,203.69 L319.57,203.69 L318.86,203.69 L318.15,203.69 L317.43,203.69 L316.72,203.69 L316.00,203.69 L315.29,203.69 L314.57,203.69 L313.86,203.69 L313.15,203.69 L312.43,203.69 L311.72,203.69 L311.00,203.69 L310.29,203.69 L309.58,203.68 L308.86,203.68 L308.15,203.68 L307.43,203.68 L306.72,203.68 L306.01,203.68 L305.29,203.68 L304.58,203.68 L303.86,203.68 L303.15,203.68 L302.44,203.67 L301.72,203.67 L301.01,203.67 L300.29,203.67 L299.58,203.67 L298.86,203.67 L298.15,203.67 L297.44,203.67 L296.72,203.66 L296.01,203.66 L295.29,203.66 L294.58,203.66 L293.87,203.66 L293.15,203.66 L292.44,203.66 L291.72,203.65 L291.01,203.65 L290.30,203.65 L289.58,203.65 L288.87,203.65 L288.15,203.65 L287.44,203.64 L286.73,203.64 L286.01,203.64 L285.30,203.64 L284.58,203.64 L283.87,203.64 L283.16,203.63 L282.44,203.63 L281.73,203.63 L281.01,203.63 L280.30,203.63 L279.59,203.62 L278.87,203.62 L278.16,203.62 L277.44,203.62 L276.73,203.62 L276.02,203.61 L275.30,203.61 L274.59,203.61 L273.87,203.61 L273.16,203.61 L272.45,203.60 L271.73,203.60 L271.02,203.60 L270.30,203.60 L269.59,203.59 L268.88,203.59 L268.16,203.59 L267.45,203.59 L266.74,203.58 L266.02,203.58 L265.31,203.58 L264.59,203.58 L263.88,203.57 L263.17,203.57 L262.45,203.57 L261.74,203.57 L261.02,203.56 L260.31,203.56 L259.60,203.56 L258.88,203.55 L258.17,203.55 L257.45,203.55 L256.74,203.55 L256.03,203.54 L255.31,203.54 L254.60,203.54 L253.88,203.53 L253.17,203.53 L252.46,203.53 L251.74,203.52 L251.03,203.52 L250.32,203.52 L249.60,203.51 L248.89,203.51 L248.17,203.51 L247.46,203.50 L246.75,203.50 L246.03,203.50 L245.32,203.49 L244.60,203.49 L243.89,203.49 L243.18,203.48 L242.46,203.48 L241.75,203.48 L241.04,203.47 L240.32,203.47 L239.61,203.46 L238.89,203.46 L238.18,203.46 L237.47,203.45 L236.75,203.45 L236.04,203.44 L235.32,203.44 L234.61,203.44 L233.90,203.43 L233.18,203.43 L232.47,203.42 L231.76,203.42 L231.04,203.42 L230.33,203.41 L229.61,203.41 L228.90,203.40 L228.19,203.40 L227.47,203.40 L226.76,203.39 L226.04,203.39 L225.33,203.38 L224.62,203.38 L223.90,203.37 L223.19,203.37 L222.48,203.36 L221.76,203.36 L221.05,203.35 L220.33,203.35 L219.62,203.34 L218.91,203.34 L218.19,203.34 L217.48,203.33 L216.77,203.33 L216.05,203.32 L215.34,203.32 L214.62,203.31 L213.91,203.31 L213.20,203.30 L212.48,203.30 L211.77,203.29 L211.06,203.29 L210.34,203.28 L209.63,203.27 L208.91,203.27 L208.20,203.26 L207.49,203.26 L206.77,203.25 L206.06,203.25 L205.35,203.24 L204.63,203.24 L203.92,203.23 L203.20,203.23 L202.49,203.22 L201.78,203.21 L201.06,203.21 L200.35,203.20 L199.64,203.20 L198.92,203.19 L198.21,203.18 L197.49,203.17 L196.78,203.16 L196.07,203.15 L195.35,203.13 L194.64,203.12 L193.92,203.10 L193.21,203.08 L192.50,203.06" fill="none" stroke="#2a2aff" stroke-width="1.35" stroke-dasharray="4.2 3.43" stroke-dashoffset="4.83"/>
<path d="M51.50,108.70 L52.33,108.70 L53.16,108.70 L53.99,108.70 L54.82,108.70 L55.65,108.70 L56.48,108.70 L57.31,108.70 L58.14,108.70 L58.97,108.70 L59.80,108.70 L60.63,108.70 L61.46,108.70 L62.29,108.70 L63.11,108.70 L63.94,108.70 L64.77,108.70 L65.60,108.70 L66.43,108.70 L67.26,108.70 L68.09,108.71 L68.92,108.71 L69.75,108.71 L70.58,108.71 L71.41,108.71 L72.24,108.71 L73.07,108.71 L73.90,108.71 L74.73,108.71 L75.56,108.71 L76.39,108.71 L77.22,108.71 L78.05,108.71 L78.87,108.71 L79.70,108.72 L80.53,108.72 L81.36,108.72 L82.19,108.72 L83.02,108.72 L83.85,108.72 L84.68,108.72 L85.51,108.72 L86.34,108.73 L87.17,108.73 L88.00,108.73 L88.83,108.73 L89.66,108.73 L90.48,108.73 L91.31,108.73 L92.14,108.74 L92.97,108.74 L93.80,108.74 L94.63,108.74 L95.46,108.74 L96.29,108.74 L97.12,108.75 L97.95,108.75 L98.78,108.75 L99.61,108.75 L100.44,108.75 L101.26,108.76 L102.09,108.76 L102.92,108.76 L103.75,108.76 L104.58,108.77 L105.41,108.77 L106.24,108.77 L107.07,108.77 L107.90,108.78 L108.73,108.78 L109.56,108.78 L110.39,108.78 L111.21,108.79 L112.04,108.79 L112.87,108.79 L113.70,108.80 L114.53,108.80 L115.36,108.80 L116.19,108.81 L117.02,108.82 L117.85,108.83 L118.68,108.85 L119.51,108.87 L120.34,108.89 L121.16,108.92 L121.99,108.95 L122.82,108.98 L123.65,109.01 L124.48,109.05 L125.31,109.08 L126.14,109.12 L126.97,109.16 L127.80,109.19 L128.62,109.23 L129.45,109.27 L130.28,109.31 L131.11,109.36 L131.94,109.40 L132.77,109.45 L133.60,109.50 L134.43,109.55 L135.26,109.61 L136.09,109.67 L136.92,109.73 L137.75,109.79 L138.58,109.86 L139.42,109.94 L140.25,110.01 L141.07,110.09 L141.90,110.17 L142.73,110.26 L143.55,110.35 L144.38,110.44 L145.20,110.54 L146.02,110.64 L146.84,110.75 L147.66,110.86 L148.47,110.97 L149.28,111.09 L150.09,111.21 L150.90,111.36 L151.71,111.52 L152.51,111.72 L153.31,111.93 L154.12,112.16 L154.91,112.40 L155.71,112.66 L156.50,112.93 L157.29,113.21 L158.08,113.49 L158.86,113.78 L159.63,114.06 L160.41,114.35 L161.18,114.64 L161.96,114.94 L162.75,115.24 L163.53,115.55 L164.32,115.87 L165.10,116.19 L165.89,116.52 L166.67,116.87 L167.44,117.22 L168.21,117.57 L168.97,117.94 L169.72,118.32 L170.46,118.70 L171.19,119.10 L171.91,119.50 L172.61,119.92 L173.30,120.35 L173.97,120.78 L174.62,121.23 L175.26,121.69 L175.88,122.18 L176.49,122.69 L177.10,123.23 L177.69,123.80 L178.27,124.38 L178.85,124.98 L179.41,125.60 L179.97,126.24 L180.52,126.89 L181.06,127.55 L181.59,128.21 L182.12,128.89 L182.63,129.57 L183.14,130.25 L183.64,130.93 L184.14,131.60 L184.62,132.28 L185.10,132.94 L185.58,133.61 L186.04,134.30 L186.50,134.98 L186.95,135.68 L187.40,136.38 L187.84,137.09 L188.27,137.80 L188.69,138.52 L189.11,139.25 L189.52,139.97 L189.92,140.70 L190.32,141.43 L190.71,142.17 L191.09,142.90 L191.47,143.63 L191.84,144.37 L192.20,145.11 L192.56,145.85 L192.91,146.60 L193.25,147.35 L193.59,148.10 L193.93,148.86 L194.26,149.62 L194.58,150.38 L194.90,151.15 L195.22,151.91 L195.54,152.68 L195.85,153.45 L196.16,154.22 L196.47,154.99 L196.77,155.76 L197.08,156.54 L197.38,157.31 L197.69,158.09 L197.99,158.86 L198.30,159.64 L198.60,160.41 L198.91,161.19 L199.21,161.96 L199.52,162.73 L199.83,163.50 L200.15,164.27 L200.46,165.04 L200.78,165.81 L201.10,166.58 L201.43,167.34 L201.76,168.10 L202.09,168.86 L202.43,169.62 L202.78,170.37 L203.12,171.12 L203.47,171.88 L203.81,172.64 L204.15,173.40 L204.50,174.16 L204.84,174.92 L205.19,175.68 L205.54,176.44 L205.89,177.20 L206.25,177.95 L206.61,178.71 L206.97,179.45 L207.34,180.20 L207.72,180.94 L208.11,181.67 L208.50,182.40 L208.90,183.12 L209.31,183.83 L209.73,184.53 L210.15,185.23 L210.59,185.92" fill="none" stroke="#000" stroke-width="1.35" stroke-dasharray="4.2 3.43"/>
<path d="M336.00,203.20 L335.17,203.20 L334.34,203.20 L333.51,203.20 L332.68,203.20 L331.85,203.20 L331.02,203.20 L330.19,203.20 L329.36,203.20 L328.53,203.19 L327.70,203.19 L326.87,203.19 L326.04,203.19 L325.21,203.19 L324.38,203.19 L323.56,203.19 L322.73,203.18 L321.90,203.18 L321.07,203.18 L320.24,203.18 L319.41,203.18 L318.58,203.17 L317.75,203.17 L316.92,203.17 L316.09,203.16 L315.26,203.16 L314.43,203.16 L313.60,203.15 L312.77,203.15 L311.94,203.15 L311.11,203.14 L310.28,203.14 L309.45,203.14 L308.62,203.13 L307.79,203.13 L306.97,203.12 L306.14,203.12 L305.31,203.12 L304.48,203.11 L303.65,203.11 L302.82,203.10 L301.99,203.10 L301.16,203.09 L300.33,203.09 L299.50,203.08 L298.67,203.08 L297.84,203.07 L297.01,203.06 L296.18,203.06 L295.35,203.05 L294.53,203.05 L293.70,203.04 L292.87,203.03 L292.04,203.03 L291.21,203.02 L290.38,203.02 L289.55,203.01 L288.72,203.00 L287.89,203.00 L287.06,202.99 L286.23,202.98 L285.40,202.97 L284.57,202.97 L283.75,202.96 L282.92,202.95 L282.09,202.94 L281.26,202.94 L280.43,202.93 L279.60,202.92 L278.77,202.91 L277.94,202.90 L277.11,202.90 L276.28,202.89 L275.45,202.88 L274.62,202.87 L273.80,202.86 L272.97,202.85 L272.14,202.84 L271.31,202.83 L270.48,202.83 L269.65,202.82 L268.82,202.81 L267.99,202.80 L267.16,202.79 L266.33,202.78 L265.51,202.77 L264.68,202.76 L263.85,202.75 L263.02,202.74 L262.19,202.73 L261.36,202.72 L260.53,202.71 L259.70,202.70 L258.87,202.68 L258.04,202.67 L257.21,202.66 L256.38,202.64 L255.55,202.63 L254.72,202.61 L253.89,202.59 L253.05,202.57 L252.22,202.55 L251.39,202.53 L250.56,202.50 L249.73,202.48 L248.90,202.45 L248.06,202.42 L247.23,202.39 L246.40,202.36 L245.57,202.32 L244.75,202.28 L243.92,202.25 L243.09,202.21 L242.26,202.16 L241.44,202.12 L240.62,202.07 L239.79,202.02 L238.97,201.97 L238.15,201.92 L237.33,201.86 L236.51,201.77 L235.68,201.66 L234.86,201.53 L234.03,201.38 L233.21,201.22 L232.39,201.03 L231.58,200.84 L230.77,200.63 L229.96,200.42 L229.17,200.20 L228.38,199.97 L227.60,199.74 L226.82,199.49 L226.03,199.21 L225.24,198.91 L224.46,198.59 L223.67,198.25 L222.90,197.89 L222.13,197.50 L221.38,197.11 L220.64,196.69 L219.93,196.26 L219.24,195.82 L218.57,195.37 L217.94,194.91 L217.33,194.42 L216.74,193.90 L216.16,193.34 L215.59,192.76 L215.04,192.14 L214.49,191.49 L213.97,190.83 L213.45,190.15 L212.95,189.46 L212.45,188.75 L211.97,188.04 L211.50,187.33 L211.04,186.62 L210.59,185.92" fill="none" stroke="#000" stroke-width="1.35" stroke-dasharray="4.2 3.43" stroke-dashoffset="0.00"/>
<path d="M51.50,31.10 L52.53,31.10 L53.56,31.10 L54.58,31.10 L55.61,31.10 L56.64,31.10 L57.67,31.10 L58.69,31.10 L59.72,31.10 L60.75,31.10 L61.77,31.10 L62.80,31.10 L63.83,31.11 L64.86,31.11 L65.88,31.11 L66.91,31.11 L67.94,31.11 L68.97,31.11 L69.99,31.11 L71.02,31.11 L72.05,31.12 L73.07,31.12 L74.10,31.12 L75.13,31.12 L76.15,31.12 L77.18,31.12 L78.21,31.13 L79.23,31.13 L80.26,31.13 L81.29,31.13 L82.31,31.14 L83.34,31.14 L84.37,31.14 L85.39,31.14 L86.42,31.15 L87.45,31.15 L88.47,31.15 L89.50,31.16 L90.53,31.16 L91.55,31.16 L92.58,31.17 L93.60,31.17 L94.63,31.17 L95.66,31.18 L96.68,31.18 L97.71,31.18 L98.74,31.19 L99.76,31.19 L100.79,31.20 L101.81,31.20 L102.84,31.21 L103.87,31.21 L104.89,31.22 L105.92,31.22 L106.94,31.23 L107.97,31.23 L109.00,31.24 L110.02,31.24 L111.05,31.25 L112.07,31.25 L113.10,31.26 L114.12,31.26 L115.15,31.27 L116.18,31.28 L117.20,31.28 L118.23,31.29 L119.25,31.30 L120.28,31.30 L121.31,31.31 L122.33,31.33 L123.36,31.35 L124.39,31.37 L125.42,31.41 L126.45,31.44 L127.48,31.48 L128.51,31.52 L129.54,31.57 L130.56,31.62 L131.59,31.68 L132.62,31.74 L133.65,31.80 L134.67,31.87 L135.70,31.94 L136.72,32.01 L137.75,32.09 L138.77,32.17 L139.79,32.25 L140.81,32.34 L141.83,32.42 L142.84,32.51 L143.85,32.61 L144.87,32.71 L145.88,32.84 L146.90,32.99 L147.92,33.15 L148.94,33.34 L149.96,33.54 L150.97,33.76 L151.99,34.00 L153.00,34.24 L154.00,34.50 L155.00,34.77 L155.99,35.05 L156.97,35.34 L157.95,35.64 L158.92,35.95 L159.87,36.26 L160.82,36.58 L161.78,36.94 L162.73,37.33 L163.68,37.74 L164.63,38.19 L165.57,38.65 L166.50,39.14 L167.42,39.65 L168.32,40.17 L169.21,40.71 L170.08,41.27 L170.94,41.84 L171.76,42.42 L172.57,43.00 L173.35,43.60 L174.13,44.24 L174.90,44.91 L175.67,45.60 L176.42,46.32 L177.16,47.06 L177.88,47.83 L178.59,48.61 L179.28,49.40 L179.95,50.21 L180.60,51.03 L181.22,51.86 L181.82,52.69 L182.39,53.52 L182.93,54.35 L183.45,55.20 L183.97,56.07 L184.48,56.95 L184.97,57.85 L185.45,58.75 L185.92,59.67 L186.38,60.61 L186.83,61.55 L187.26,62.49 L187.68,63.45 L188.09,64.41 L188.48,65.37 L188.87,66.34 L189.24,67.31 L189.60,68.28 L189.94,69.24 L190.27,70.21 L190.59,71.17 L190.89,72.15 L191.18,73.13 L191.46,74.12 L191.73,75.11 L192.00,76.10 L192.25,77.10 L192.50,78.11 L192.74,79.11 L192.97,80.11 L193.20,81.11 L193.43,82.11 L193.65,83.11 L193.86,84.12 L194.08,85.12 L194.28,86.12 L194.49,87.13 L194.68,88.13 L194.88,89.14 L195.07,90.15 L195.26,91.16 L195.45,92.17 L195.63,93.18 L195.81,94.19 L195.99,95.20 L196.17,96.21 L196.35,97.22 L196.53,98.23 L196.70,99.25 L196.88,100.26 L197.05,101.27 L197.23,102.28 L197.41,103.30 L197.59,104.31 L197.76,105.32 L197.94,106.33 L198.13,107.34 L198.31,108.35 L198.50,109.36 L198.69,110.37 L198.88,111.38 L199.08,112.39 L199.27,113.40 L199.48,114.40 L199.68,115.41 L199.89,116.41 L200.10,117.42 L200.31,118.42 L200.52,119.43 L200.73,120.43 L200.94,121.44 L201.16,122.44 L201.37,123.45 L201.59,124.45 L201.80,125.46 L202.01,126.46 L202.23,127.46 L202.44,128.47 L202.65,129.47 L202.86,130.48 L203.07,131.49 L203.27,132.49 L203.47,133.50 L203.67,134.50 L203.87,135.51 L204.06,136.52 L204.25,137.53 L204.44,138.54 L204.62,139.55 L204.80,140.56 L204.97,141.57 L205.14,142.58 L205.31,143.59 L205.48,144.61 L205.64,145.62 L205.80,146.63 L205.96,147.65 L206.11,148.66 L206.25,149.68 L206.40,150.70 L206.54,151.71 L206.67,152.73 L206.80,153.75 L206.93,154.77 L207.05,155.79 L207.17,156.81 L207.29,157.83 L207.41,158.85 L207.52,159.87 L207.64,160.89 L207.75,161.91 L207.86,162.93 L207.97,163.95 L208.08,164.98 L208.19,166.00 L208.29,167.02 L208.40,168.04 L208.51,169.06 L208.62,170.08 L208.73,171.10 L208.85,172.13 L208.96,173.15 L209.08,174.17 L209.19,175.19 L209.31,176.21 L209.44,177.22 L209.56,178.24 L209.69,179.26 L209.83,180.28 L209.96,181.29 L210.10,182.31 L210.25,183.32" fill="none" stroke="#2f9a00" stroke-width="1.35" stroke-dasharray="4.2 3.43"/>
<path d="M336.00,202.50 L334.97,202.49 L333.95,202.49 L332.92,202.48 L331.89,202.47 L330.87,202.47 L329.84,202.46 L328.81,202.45 L327.79,202.45 L326.76,202.44 L325.73,202.43 L324.71,202.43 L323.68,202.42 L322.65,202.41 L321.63,202.41 L320.60,202.40 L319.58,202.39 L318.55,202.39 L317.52,202.38 L316.50,202.38 L315.47,202.37 L314.44,202.36 L313.42,202.36 L312.39,202.35 L311.36,202.34 L310.34,202.34 L309.31,202.33 L308.28,202.32 L307.26,202.32 L306.23,202.31 L305.20,202.31 L304.18,202.30 L303.15,202.29 L302.12,202.29 L301.10,202.28 L300.07,202.27 L299.04,202.27 L298.02,202.26 L296.99,202.26 L295.96,202.25 L294.94,202.24 L293.91,202.24 L292.89,202.23 L291.86,202.23 L290.83,202.22 L289.81,202.21 L288.78,202.21 L287.75,202.20 L286.73,202.20 L285.70,202.19 L284.67,202.18 L283.65,202.18 L282.62,202.17 L281.59,202.17 L280.57,202.16 L279.54,202.15 L278.51,202.15 L277.49,202.14 L276.46,202.14 L275.43,202.13 L274.41,202.12 L273.38,202.12 L272.35,202.11 L271.33,202.11 L270.30,202.10 L269.27,202.10 L268.25,202.09 L267.22,202.09 L266.19,202.08 L265.17,202.08 L264.14,202.07 L263.11,202.07 L262.09,202.06 L261.06,202.06 L260.03,202.06 L259.01,202.05 L257.98,202.05 L256.95,202.05 L255.92,202.04 L254.90,202.04 L253.87,202.04 L252.84,202.03 L251.82,202.03 L250.79,202.03 L249.76,202.02 L248.74,202.02 L247.71,202.02 L246.68,202.01 L245.66,202.01 L244.63,202.00 L243.60,202.00 L242.58,201.99 L241.55,201.98 L240.52,201.98 L239.50,201.97 L238.47,201.96 L237.45,201.95 L236.42,201.94 L235.39,201.94 L234.37,201.93 L233.34,201.91 L232.32,201.90 L231.29,201.89 L230.27,201.86 L229.24,201.82 L228.21,201.77 L227.19,201.71 L226.16,201.64 L225.13,201.56 L224.11,201.47 L223.09,201.37 L222.07,201.27 L221.05,201.17 L220.03,201.06 L218.96,200.93 L217.89,200.78 L216.86,200.58 L215.93,200.32 L215.12,199.92 L214.37,199.16 L213.75,198.25 L213.28,197.37 L212.89,196.42 L212.56,195.42 L212.28,194.43 L212.03,193.44 L211.80,192.45 L211.59,191.44 L211.39,190.43 L211.21,189.42 L211.04,188.40 L210.87,187.38 L210.71,186.37 L210.55,185.35 L210.40,184.34 L210.25,183.32" fill="none" stroke="#2f9a00" stroke-width="1.35" stroke-dasharray="4.2 3.43" stroke-dashoffset="4.83"/>
</g>
<!-- frame -->
<g fill="none" stroke="#000" stroke-width="1.08">
<rect x="51.5" y="7.0" width="284.5" height="206.9"/>
<path d="M51.50,213.9 v-4.3 M51.50,7.0 v4.3"/>
<path d="M87.06,213.9 v-4.3 M87.06,7.0 v4.3"/>
<path d="M122.62,213.9 v-4.3 M122.62,7.0 v4.3"/>
<path d="M158.19,213.9 v-4.3 M158.19,7.0 v4.3"/>
<path d="M193.75,213.9 v-4.3 M193.75,7.0 v4.3"/>
<path d="M229.31,213.9 v-4.3 M229.31,7.0 v4.3"/>
<path d="M264.88,213.9 v-4.3 M264.88,7.0 v4.3"/>
<path d="M300.44,213.9 v-4.3 M300.44,7.0 v4.3"/>
<path d="M336.00,213.9 v-4.3 M336.00,7.0 v4.3"/>
<path d="M51.5,213.90 h4.3 M336.0,213.90 h-4.3"/>
<path d="M51.5,162.18 h4.3 M336.0,162.18 h-4.3"/>
<path d="M51.5,110.45 h4.3 M336.0,110.45 h-4.3"/>
<path d="M51.5,58.72 h4.3 M336.0,58.72 h-4.3"/>
<path d="M51.5,7.00 h4.3 M336.0,7.00 h-4.3"/>
</g>
<g font-size="14px" fill="#1a1a1a">
<text x="53.40" y="231.3" text-anchor="middle">5</text>
<text x="88.96" y="231.3" text-anchor="middle">10</text>
<text x="124.53" y="231.3" text-anchor="middle">15</text>
<text x="160.09" y="231.3" text-anchor="middle">20</text>
<text x="195.65" y="231.3" text-anchor="middle">25</text>
<text x="231.21" y="231.3" text-anchor="middle">30</text>
<text x="266.77" y="231.3" text-anchor="middle">35</text>
<text x="302.34" y="231.3" text-anchor="middle">40</text>
<text x="337.90" y="231.3" text-anchor="middle">45</text>
<text x="43.3" y="217.15" text-anchor="end">0</text>
<text x="43.3" y="165.43" text-anchor="end">0.5</text>
<text x="43.3" y="113.70" text-anchor="end">1</text>
<text x="43.3" y="61.97" text-anchor="end">1.5</text>
<text x="43.3" y="11.15" text-anchor="end">2</text>
<text x="174.2" y="252" font-size="15px" font-style="italic">ξ</text><text x="186.6" y="252">[nm]</text>
<text transform="translate(14.6,136.6) rotate(-90)" letter-spacing="0.4">[<tspan font-style="italic">μ</tspan>m]</text>
<text transform="translate(12.5,144.5) rotate(-90)" font-size="11px" font-style="italic">z</text>
<text x="57.5" y="46.3" font-style="italic" textLength="4.8" lengthAdjust="spacingAndGlyphs">z</text><text x="62.45" y="47.60" font-size="10.4px" textLength="16.2" lengthAdjust="spacingAndGlyphs">upp</text>
<text x="57.5" y="122.1" font-style="italic" textLength="4.8" lengthAdjust="spacingAndGlyphs">z</text><text x="62.45" y="123.40" font-size="10.4px" textLength="14.3" lengthAdjust="spacingAndGlyphs">avg</text>
<text x="57.5" y="179.1" font-style="italic" textLength="4.8" lengthAdjust="spacingAndGlyphs">z</text><text x="62.45" y="180.20" font-size="10.4px" textLength="13.6" lengthAdjust="spacingAndGlyphs">low</text>
<text x="57.5" y="209.85" font-style="italic" textLength="4.8" lengthAdjust="spacingAndGlyphs">z</text><text x="62.45" y="210.80" font-size="10.4px" textLength="15.9" lengthAdjust="spacingAndGlyphs">min</text>
</g>
</svg>
</body></html>
